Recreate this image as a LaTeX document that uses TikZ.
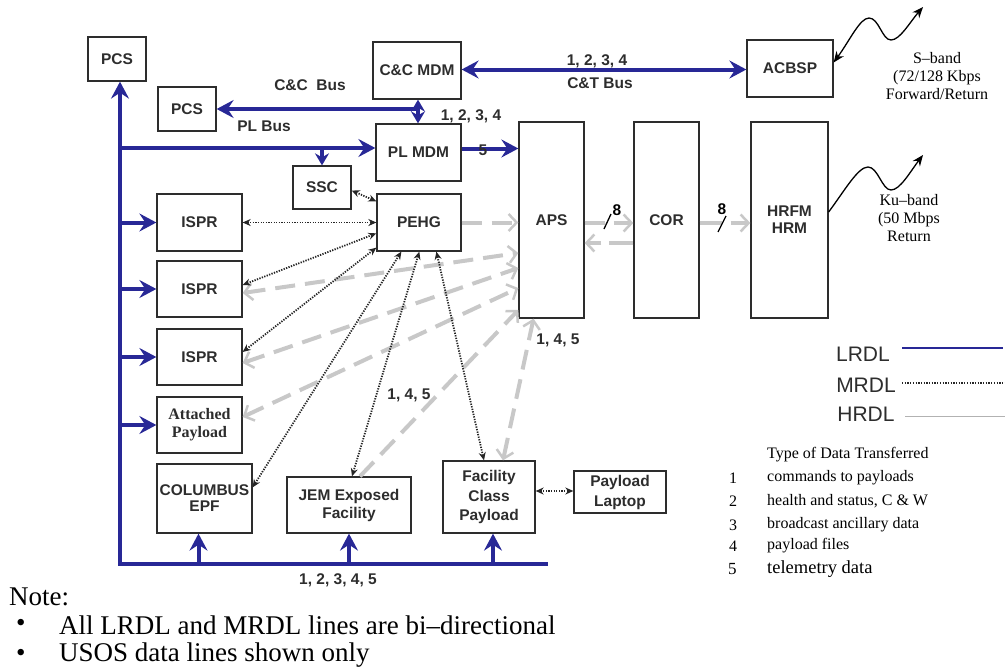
\documentclass[tikz,border=0pt]{standalone}
\usepackage{fontspec}
\setmainfont{Liberation Serif}
\newfontfamily\arial{Liberation Sans}
\usetikzlibrary{arrows.meta,calc}

\definecolor{busblue}{RGB}{40,40,150}
\definecolor{hrgray}{RGB}{200,200,200}
\definecolor{boxline}{RGB}{45,45,45}
\definecolor{boxtext}{RGB}{45,45,45}

\tikzset{
  box/.style={draw=boxline, line width=1.3pt, inner sep=0pt, align=center,
    font=\arial\bfseries\fontsize{15.5}{18}\selectfont, text=boxtext},
  lrdl/.style={draw=busblue, line width=4pt},
  ltip/.style={-{Stealth[length=17pt,width=18pt,inset=6pt]}},
  lboth/.style={{Stealth[length=12pt,width=14pt,inset=4pt]}-{Stealth[length=12pt,width=14pt,inset=4pt]}},
  hrdl/.style={draw=hrgray, line width=4pt, dash pattern=on 20pt off 10pt},
  htip/.style={-{Straight Barb[length=8pt,width=17pt,line width=2.5pt]}},
  hboth/.style={{Straight Barb[length=8pt,width=17pt,line width=2.5pt]}-{Straight Barb[length=8pt,width=17pt,line width=2.5pt]}},
  mrdl/.style={draw=black!85, line width=1.8pt, dash pattern=on 1.3pt off 1.3pt,
    {Stealth[length=8pt,width=7pt]}-{Stealth[length=8pt,width=7pt]}},
  wave/.style={draw=black, line width=1.3pt},
  wtip/.style={-{Stealth[length=11pt,width=9pt]}},
  lbl/.style={font=\arial\bfseries\fontsize{15.5}{18}\selectfont, text=boxtext, inner sep=0pt},
  serif/.style={font=\fontsize{16}{18}\selectfont, align=center, inner sep=0pt},
  legtext/.style={font=\arial\fontsize{21}{24}\selectfont, text=boxtext, inner sep=0pt},
  typetext/.style={font=\fontsize{16}{18}\selectfont, anchor=west, inner sep=0pt},
  notetext/.style={font=\fontsize{27}{30}\selectfont, anchor=west, inner sep=0pt},
}

\begin{document}
\begin{tikzpicture}[x=1pt, y=-1pt]
\useasboundingbox (0,0) rectangle (1005,672);

% ---------- boxes ----------
\node[box, minimum width=58pt, minimum height=44pt] (pcsA) at (117,59) {PCS};
\node[box, minimum width=58pt, minimum height=44pt] (pcsB) at (187,109) {PCS};
\node[box, minimum width=88pt, minimum height=57pt] (ccmdm) at (417,70.5) {C\&C MDM};
\node[box, minimum width=85pt, minimum height=57pt] (plmdm) at (418.5,152.5) {PL MDM};
\node[box, minimum width=58pt, minimum height=43pt] (ssc) at (322,187.5) {SSC};
\node[box, minimum width=84pt, minimum height=57pt] (pehg) at (419,222.5) {PEHG};
\node[box, minimum width=85pt, minimum height=57pt] (isprA) at (199.5,222.5) {ISPR};
\node[box, minimum width=85pt, minimum height=56pt] (isprB) at (199.5,289) {ISPR};
\node[box, minimum width=85pt, minimum height=56pt] (isprC) at (199.5,357) {ISPR};
\node[box, minimum width=85pt, minimum height=56pt,
      font=\bfseries\fontsize{16}{18}\selectfont] (att) at (199.5,425) {Attached\\Payload};
\node[box, minimum width=95pt, minimum height=69pt,
      font=\arial\bfseries\fontsize{15.5}{16}\selectfont] (columbus) at (204.5,498.5) {COLUMBUS\\EPF};
\node[box, minimum width=124pt, minimum height=56pt] (jem) at (349,505) {JEM Exposed\\Facility};
\node[box, minimum width=92pt, minimum height=72pt,
      font=\arial\bfseries\fontsize{15.5}{19.5}\selectfont] (fcp) at (489,497) {Facility\\Class\\Payload};
\node[box, minimum width=92pt, minimum height=42pt,
      font=\arial\bfseries\fontsize{15.5}{20}\selectfont] (lap) at (620,492) {Payload\\Laptop};
\node[box, minimum width=65pt, minimum height=196pt] (aps) at (551.5,220) {APS};
\node[box, minimum width=65pt, minimum height=196pt] (cor) at (666.5,220) {COR};
\node[box, minimum width=77pt, minimum height=196pt,
      font=\arial\bfseries\fontsize{15.5}{17}\selectfont] (hrfm) at (789.5,220) {HRFM\\HRM};
\node[box, minimum width=86pt, minimum height=57pt] (acbsp) at (790,68.5) {ACBSP};

% ---------- LRDL buses (blue) ----------
\coordinate (busBL) at (120,564);
\coordinate (busBR) at (548,564);
\coordinate (plrow) at (120,148);
\coordinate (ccjoin) at (418,109);

\draw[lrdl, ltip, line join=miter] (busBR) -- (busBL) -- (busBL |- pcsA.south);
\foreach \n in {isprA,isprB,isprC,att}
  \draw[lrdl, ltip] (busBL |- \n.west) -- (\n.west);
\draw[lrdl, ltip] (plrow) -- (plrow -| plmdm.west);
\draw[lrdl, -{Stealth[length=12pt,width=14pt,inset=4pt]}] (plrow -| ssc.north) -- (ssc.north);
\draw[lrdl, ltip] ([xshift=-6pt]columbus.south |- busBL) -- ([xshift=-6pt]columbus.south);
\draw[lrdl, ltip] (jem.south |- busBL) -- (jem.south);
\draw[lrdl, ltip] ([xshift=4pt]fcp.south |- busBL) -- ([xshift=4pt]fcp.south);

\draw[lrdl, ltip] (ccjoin) -- (ccjoin -| pcsB.east);
\draw[lrdl, lboth] (ccjoin |- ccmdm.south) -- (ccjoin |- plmdm.north);
\draw[lrdl, {Stealth[length=17pt,width=18pt,inset=6pt]}-{Stealth[length=17pt,width=18pt,inset=6pt]}]
  ([yshift=1pt]ccmdm.east) -- ([yshift=1pt]ccmdm.east -| acbsp.west);
\draw[lrdl, ltip] ([yshift=4pt]plmdm.east) -- ([yshift=4pt]plmdm.east -| aps.west);

% ---------- HRDL links (grey, dashed) ----------
\draw[hrdl, htip] (pehg.east) -- (pehg.east -| aps.west);
\draw[hrdl, hboth] ([yshift=-4pt]isprB.east) -- ([yshift=-33pt]aps.west);
\draw[hrdl, hboth] ([yshift=-6pt]isprC.east) -- ([yshift=-48pt]aps.west);
\draw[hrdl, hboth] ([yshift=8pt]att.east) -- ([yshift=-68pt]aps.west);
\draw[hrdl, htip] ([xshift=11pt]jem.north) -- ([yshift=-90pt]aps.west);
\draw[hrdl, hboth] ([xshift=14pt]fcp.north) -- ([xshift=-18pt]aps.south);
\draw[hrdl, htip, dash pattern=on 20pt off 9pt] ([yshift=-3pt]aps.east) -- ([yshift=-3pt]cor.west);
\draw[hrdl, htip, dash pattern=on 24pt off 8pt] ([yshift=-23pt]cor.west) -- ([yshift=-23pt]aps.east);
\draw[hrdl, htip, dash pattern=on 22pt off 9pt] ([yshift=-3pt]cor.east) -- ([yshift=-3pt]hrfm.west);

% bus-width marks on the HRDL links
\draw[black, line width=1.3pt] (604,229) -- (611,214);
\node[lbl, text=black] (w1) at (617,210) {8};
\draw[black, line width=1.3pt] (718,232) -- (726,216);
\node[lbl, text=black] (w2) at (722,209) {8};

% ---------- MRDL links (dotted) ----------
\draw[mrdl] ([yshift=-3pt]ssc.east) -- ([yshift=-8pt]pehg.north west);
\draw[mrdl] (isprA.east) -- (pehg.west);
\draw[mrdl] ([yshift=4pt]isprB.east) -- ([yshift=-40pt]pehg.north west);
\draw[mrdl] ([yshift=5pt]isprC.east) -- ([yshift=4pt]pehg.south west);
\draw[mrdl] ([yshift=-24pt]columbus.north east) -- ([xshift=25pt]pehg.south west);
\draw[mrdl] ([xshift=3pt]jem.north) -- ([xshift=43pt]pehg.south west);
\draw[mrdl] ([xshift=-5pt]fcp.north) -- ([xshift=60pt]pehg.south west);
\draw[mrdl] ([yshift=6pt]fcp.east) -- ([yshift=6pt]fcp.east -| lap.west);

% ---------- RF links ----------
\coordinate (sfree) at (923,7);
\coordinate (kfree) at (923,155);
\draw[wave, {Stealth[length=11pt,width=9pt]}-{Stealth[length=11pt,width=9pt]}]
  ([yshift=6pt]acbsp.east) .. controls (850,40) and (860,18) .. (869,18)
  .. controls (879,18) and (882,40) .. (891,40) .. controls (900,40) and (910,22) .. (sfree);
\draw[wave, wtip]
  ([yshift=8pt]hrfm.east) .. controls (845,190) and (858,167) .. (868,167)
  .. controls (878,167) and (882,190) .. (891,190) .. controls (900,190) and (910,172) .. (kfree);

% ---------- labels ----------
\node[lbl] (tccbus) at (310,85) {C\&C\ \ Bus};
\node[lbl] (tplbus) at (264,126) {PL Bus};
\node[lbl] (tcc) at (471,116) {1, 2, 3, 4};
\node[lbl] (tct1) at (597,61) {1, 2, 3, 4};
\node[lbl] (tct2) at (600,83) {C\&T Bus};
\node[lbl] (tfive) at (483,150) {5};
\node[lbl] (tapsb) at (558,340) {1, 4, 5};
\node[lbl] (tmid) at (409,395) {1, 4, 5};
\node[lbl] (tbus) at (338,580) {1, 2, 3, 4, 5};

\node[serif] (sband) at (937,76) {S--band\\(72/128 Kbps\\Forward/Return};
\node[serif] (kuband) at (909,218) {Ku--band\\(50 Mbps\\Return};

% ---------- legend ----------
\node[legtext] (legL) at (863,354) {LRDL};
\node[legtext] (legM) at (866,385) {MRDL};
\node[legtext] (legH) at (866,414) {HRDL};
\coordinate (legLe) at (1003,348);
\coordinate (legMe) at (1005,383);
\coordinate (legHe) at (1005,416);
\draw[busblue, line width=2.5pt] (902,348) -- (legLe);
\draw[black!85, line width=1.6pt, dash pattern=on 1.3pt off 1.4pt] (902,383) -- (legMe);
\draw[black!30, line width=1pt] (905,416) -- (legHe);

\node[typetext] (ttl) at (767,455) {Type of Data Transferred};
\node[typetext] (n1) at (729,478) {1};
\node[typetext] (d1) at (767,478) {commands to payloads};
\node[typetext] (n2) at (729,501) {2};
\node[typetext] (d2) at (767,501) {health and status, C \& W};
\node[typetext] (n3) at (729,525) {3};
\node[typetext] (d3) at (767,525) {broadcast ancillary data};
\node[typetext] (n4) at (729,546) {4};
\node[typetext] (d4) at (767,546) {payload files};
\node[typetext, font=\fontsize{17}{20}\selectfont] (n5) at (728,569) {5};
\node[typetext, font=\fontsize{18.5}{20}\selectfont] (d5) at (767,569) {telemetry data};

% ---------- note ----------
\node[notetext] (note) at (9,597) {Note:};
\node[notetext] (b1) at (16,625) {\textbullet};
\node[notetext] (t1) at (59,625) {All LRDL and MRDL lines are bi--directional};
\node[notetext] (b2) at (16,655) {\textbullet};
\node[notetext] (t2) at (59,655) {USOS data lines shown only};
\end{tikzpicture}
\end{document}
